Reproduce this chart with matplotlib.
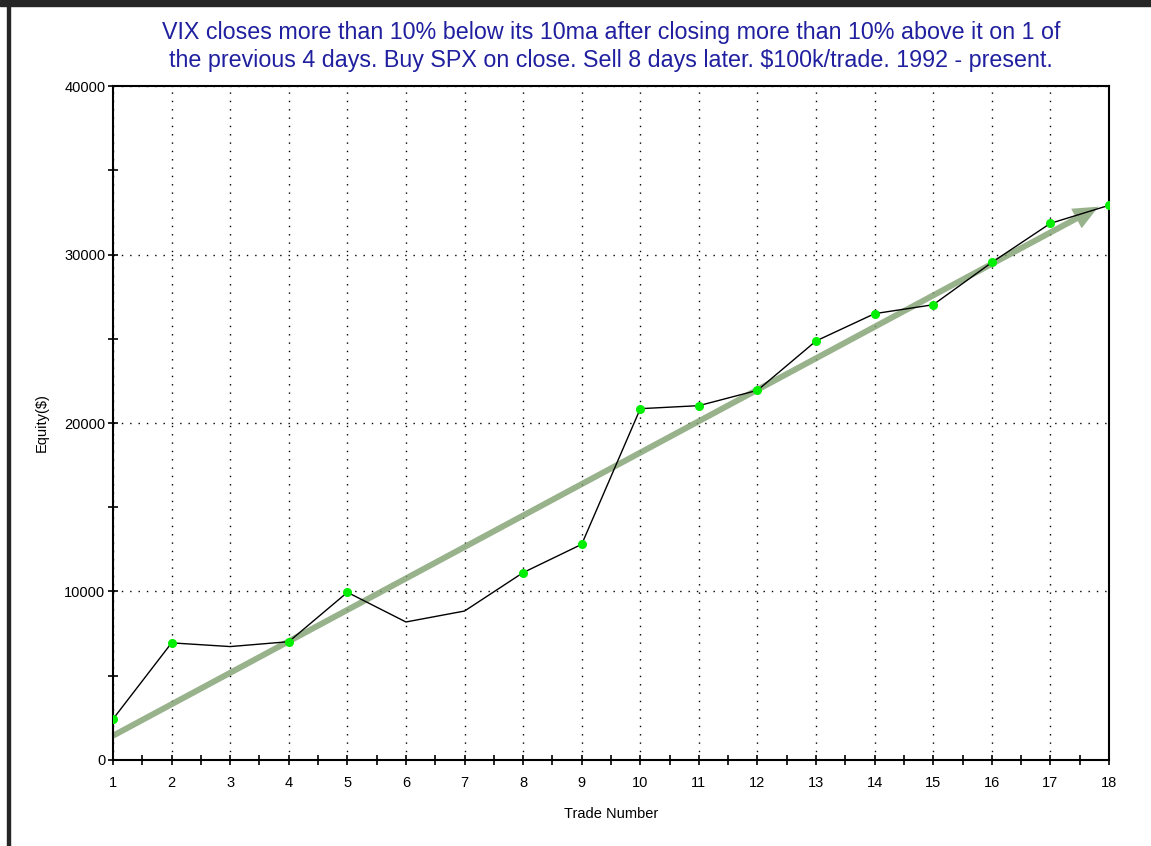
import matplotlib
matplotlib.use("Agg")
import matplotlib.pyplot as plt
from matplotlib.patches import Rectangle
from matplotlib.ticker import MultipleLocator

plt.rcParams['font.family'] = ['Liberation Sans', 'DejaVu Sans']

trades = list(range(1, 19))
equity = [2430, 6950, 6730, 7020, 9950, 8190, 8840, 11120, 12800,
          20850, 21030, 21940, 24870, 26490, 27020, 29530, 31850, 32920]
# trades with a green dot (winning trades)
winners = [1, 2, 4, 5, 8, 9, 10, 11, 12, 13, 14, 15, 16, 17, 18]
trend_start = (1, 1440)
trend_end = (17.82, 32840)

title = ("VIX closes more than 10% below its 10ma after closing more than 10% above it on 1 of\n"
         "the previous 4 days. Buy SPX on close. Sell 8 days later. $100k/trade. 1992 - present.")

fig = plt.figure(figsize=(11.51, 8.46), dpi=100)
ax = fig.add_axes([0.0982, 0.1017, 0.8653, 0.7966])

# window frame
fig.patches.append(Rectangle((0, 0.993), 1, 0.007, transform=fig.transFigure,
                             color='#262626', zorder=0))
fig.patches.append(Rectangle((0.0061, 0), 0.0028, 1, transform=fig.transFigure,
                             color='#262626', zorder=0))

ax.annotate('', xy=trend_end, xytext=trend_start,
            arrowprops=dict(width=4.3, headwidth=16, headlength=18,
                            color='#7fa06f', alpha=0.8, lw=0, shrink=0),
            zorder=2)

ax.plot(trades, equity, color='black', lw=1, zorder=3)
wy = [equity[trades.index(t)] for t in winners]
ax.plot(winners, wy, 'o', color='#00ee00', ms=5.5, mec='#00ee00', zorder=4)

ax.set_xlim(1, 18)
ax.set_ylim(0, 40000)
ax.xaxis.set_major_locator(MultipleLocator(1))
ax.xaxis.set_minor_locator(MultipleLocator(0.5))
ax.yaxis.set_major_locator(MultipleLocator(10000))
ax.yaxis.set_minor_locator(MultipleLocator(5000))
ax.tick_params(which='both', direction='inout', length=7, width=1.2, colors='black',
               labelsize=10.5)
ax.tick_params(axis='x', pad=8)
ax.tick_params(axis='y', pad=2)
ax.grid(True, which='major', color='black', linestyle=(0, (1, 5)), lw=1)
for s in ax.spines.values():
    s.set_linewidth(1.5)

ax.set_xlabel('Trade Number', fontsize=10.5)
ax.set_ylabel('Equity($)', fontsize=10.5)
ax.xaxis.set_label_coords(0.5, -0.0705)
ax.yaxis.set_label_coords(-0.065, 0.5)
fig.text(0.531, 0.945, title, ha='center', va='center', fontsize=16.75,
         color='#1f1f9f', linespacing=1.3)

fig.savefig('out.png', dpi=100)
